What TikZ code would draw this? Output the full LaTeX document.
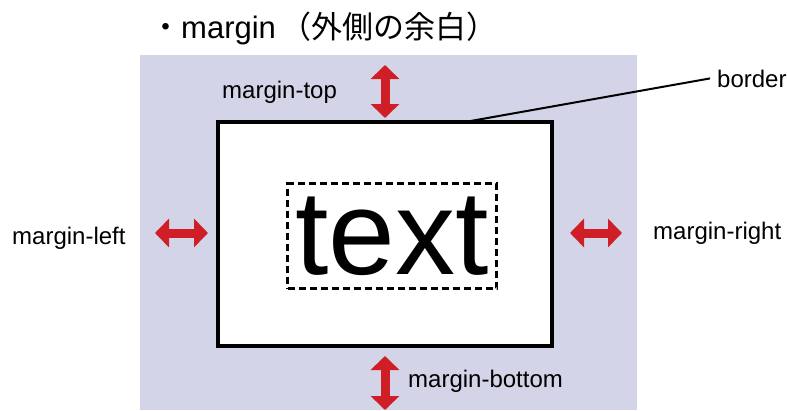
\documentclass[tikz,border=0pt]{standalone}
\usepackage{fontspec}
\setmainfont{Liberation Sans}
\newfontfamily\jpfont{Noto Sans CJK JP}
\usetikzlibrary{arrows.meta}

\definecolor{mgnbg}{RGB}{212,212,232}
\definecolor{mgnred}{RGB}{208,30,38}

\begin{document}
\begin{tikzpicture}[x=1pt,y=-1pt,
  lbl/.style={anchor=base west,inner sep=0pt,font=\fontsize{24}{28}\selectfont},
  marr/.style={mgnred,line width=9pt,
    {Triangle[width=28pt,length=14pt]}-{Triangle[width=28pt,length=14pt]}}]
\useasboundingbox (0,0) rectangle (787,410);
% margin area
\fill[mgnbg] (140,55) rectangle (637,410);
\node[anchor=base west,inner sep=0pt,font=\fontsize{31}{34}\selectfont] (ttl) at (150,38)
  {{\jpfont ・}margin\hspace{5pt}{\jpfont （外側の余白）}};
% border box and padded content
\node[draw,line width=3.5pt,fill=white,minimum width=334pt,minimum height=224pt] (box) at (385,234) {};
\node[draw,dash pattern=on 7pt off 4pt,line width=2.3pt,inner sep=0pt,
  minimum width=209pt,minimum height=105pt,font=\fontsize{120}{120}\selectfont] (txt) at (392,236) {text};
% labels
\node[lbl] (mt) at (222,98) {margin-top};
\node[lbl] (ml) at (12,244) {margin-left};
\node[lbl] (mr) at (653,239) {margin-right};
\node[lbl] (mb) at (408,387) {margin-bottom};
\node[lbl,inner sep=7pt] (brd) at (710,87) {border};
% arrows
\coordinate (t1) at (385,65);  \coordinate (t2) at (385,118);
\coordinate (b1) at (385,356); \coordinate (b2) at (385,410);
\coordinate (l1) at (155,233); \coordinate (l2) at (208,233);
\coordinate (r1) at (570,233); \coordinate (r2) at (622,233);
\draw[marr] (t1) -- (t2);
\draw[marr] (b1) -- (b2);
\draw[marr] (l1) -- (l2);
\draw[marr] (r1) -- (r2);
\coordinate (bp) at (465,122);
\draw[line width=2pt] (bp) -- (brd.west);
\end{tikzpicture}
\end{document}
